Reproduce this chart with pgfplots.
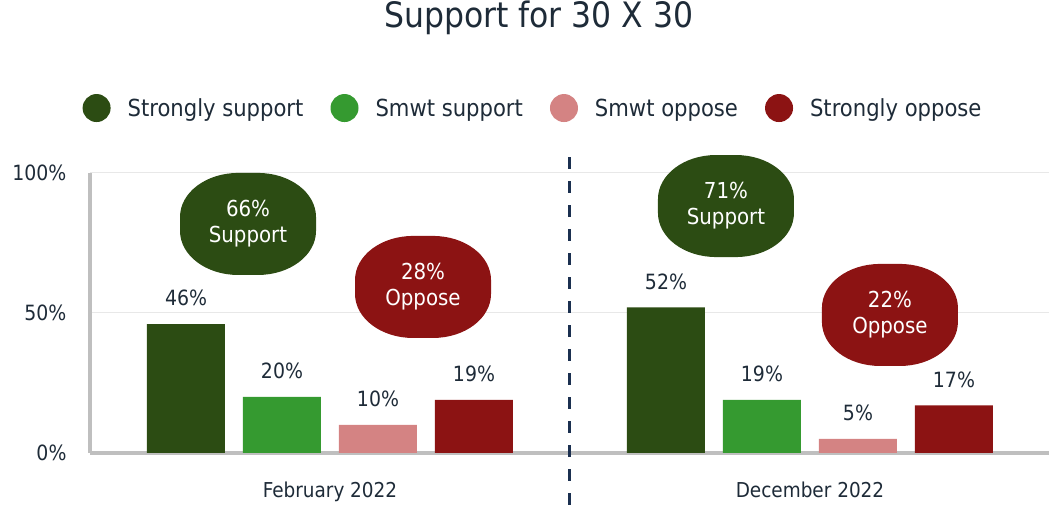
\documentclass[border=0pt]{standalone}
\usepackage{fontspec}
\setmainfont{DejaVu Sans Condensed}
\usepackage{pgfplots}
\pgfplotsset{compat=1.18}
\definecolor{sstrong}{HTML}{2C4C13}
\definecolor{ssmwt}{HTML}{359A30}
\definecolor{osmwt}{HTML}{D48383}
\definecolor{ostrong}{HTML}{8C1313}
\definecolor{txt}{HTML}{1E2B38}
\definecolor{axgray}{HTML}{BFBFBF}
\definecolor{gridgray}{HTML}{E8E8E8}
\definecolor{divblue}{HTML}{1B3050}
\pgfplotsset{
  mybar/.style={ybar, bar width=0.8125, bar shift=0pt, draw=none, fill=#1,
    nodes near coords={\pgfmathprintnumber{\pgfplotspointmeta}\%},
    nodes near coords style={font=\fontsize{21}{24}\selectfont, text=txt, yshift=14.5pt}},
}
\newcommand{\bubble}[4]{%
  \fill[#1] (axis cs:#2,#3) ++(-68pt,-7pt) -- ++(0pt,14pt)
    arc[start angle=180,end angle=90,x radius=58pt,y radius=44pt] -- ++(20pt,0pt)
    arc[start angle=90,end angle=0,x radius=58pt,y radius=44pt] -- ++(0pt,-14pt)
    arc[start angle=0,end angle=-90,x radius=58pt,y radius=44pt] -- ++(-20pt,0pt)
    arc[start angle=270,end angle=180,x radius=58pt,y radius=44pt] -- cycle;
  \node[text=white, align=center, font=\fontsize{22}{26}\selectfont, inner sep=0pt] at (axis cs:#2,#3) {#4};}
\begin{document}
\begin{tikzpicture}
\useasboundingbox (-90pt,-52pt) rectangle (959pt,453pt);
\begin{axis}[
  at={(0,0)}, anchor=south west,
  scale only axis, width=959pt, height=280pt,
  xmin=-2.5, xmax=7.49, ymin=0, ymax=100,
  /pgf/number format/assume math mode=true,
  axis x line=bottom, axis y line=left,
  axis line style={draw=axgray, line width=4.5pt, -},
  ytick={0,50,100}, yticklabels={0\%,50\%,100\%},
  xtick={0,5}, xticklabels={February 2022, December 2022},
  major tick length=0pt,
  ymajorgrids, grid style={gridgray, line width=1pt},
  ticklabel style={font=\fontsize{20.5}{24}\selectfont, text=txt},
  yticklabel style={xshift=-20pt, font=\fontsize{21}{24}\selectfont},
  xticklabel style={yshift=-25pt},
  clip=false,
  title={Support for 30 X 30},
  every axis title shift=0pt,
  title style={at={(0.468,1.518)}, anchor=base, font=\fontsize{35}{40}\selectfont, text=txt},
  legend style={at={(0.462,1.232)}, anchor=center, draw=none, fill=none,
    legend columns=4, font=\fontsize{23.5}{28}\selectfont, text=txt,
    /tikz/every even column/.append style={column sep=25pt}},
  legend cell align=left,
  legend image code/.code={\fill[#1,draw=none] (14pt,0pt) circle (14pt); \path (0pt,0pt) (43pt,0pt);},
]
\addplot[mybar=sstrong] coordinates {(-1.5,46) (3.5,52)};
\addlegendentry{Strongly support}
\addplot[mybar=ssmwt] coordinates {(-0.5,20) (4.5,19)};
\addlegendentry{Smwt support}
\addplot[mybar=osmwt] coordinates {(0.5,10) (5.5,5)};
\addlegendentry{Smwt oppose}
\addplot[mybar=ostrong] coordinates {(1.5,19) (6.5,17)};
\addlegendentry{Strongly oppose}
\addplot[sharp plot, divblue, line width=3pt, dash pattern=on 12pt off 12pt, forget plot] coordinates {(2.5,105.7) (2.5,-18.6)};
\bubble{sstrong}{-0.854}{81.8}{66\%\\Support}
\bubble{ostrong}{0.969}{59.3}{28\%\\Oppose}
\bubble{sstrong}{4.125}{88.2}{71\%\\Support}
\bubble{ostrong}{5.833}{49.3}{22\%\\Oppose}
\end{axis}
\end{tikzpicture}
\end{document}
